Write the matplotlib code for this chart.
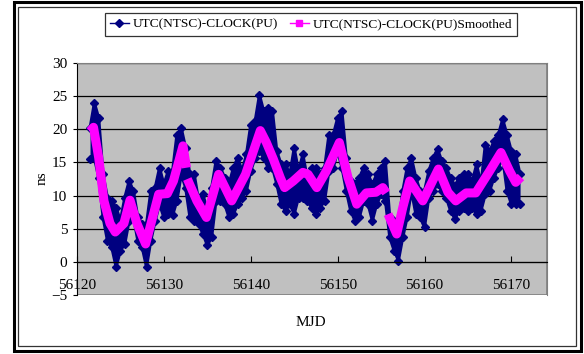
import matplotlib

matplotlib.use("Agg")

import matplotlib.pyplot as plt
import numpy as np
from matplotlib.lines import Line2D
from matplotlib.patches import Rectangle

# raw data: envelope of the dense measurement band, sampled every 0.5 day
mjd_raw = np.arange(56121.5, 56171.01, 0.5)
raw_upper = [
    20.2, 24.0, 21.7, 13.2, 9.7, 9.2, 8.2, 6.2, 9.7, 12.2,
    10.7, 6.7, 5.7, 5.7, 10.7, 11.2, 14.2, 11.7, 13.7, 13.7,
    19.2, 20.2, 17.2, 13.2, 13.2, 9.2, 10.2, 7.7, 11.2, 15.2,
    14.2, 12.7, 11.7, 14.2, 15.7, 13.7, 16.2, 20.7, 21.2, 25.2,
    22.7, 23.2, 22.7, 16.7, 14.7, 14.7, 13.2, 17.2, 13.7, 16.2,
    12.7, 14.2, 14.2, 13.2, 14.2, 19.2, 19.2, 21.7, 22.7, 15.7,
    12.2, 11.7, 12.7, 14.2, 13.2, 11.7, 13.2, 14.2, 15.2, 6.7,
    6.2, 5.7, 10.7, 14.2, 15.7, 12.7, 10.7, 10.7, 13.7, 15.7,
    17.0, 15.2, 14.2, 12.7, 11.5, 12.7, 13.2, 13.2, 12.2, 14.7,
    11.7, 17.7, 16.7, 18.2, 19.2, 21.5, 19.2, 16.7, 16.2, 13.2,
]
raw_lower = [
    15.5, 15.7, 12.7, 6.7, 3.2, 2.2, -0.8, 1.7, 2.7, 6.2,
    6.7, 3.2, 2.2, -0.8, 3.2, 6.2, 8.7, 6.7, 7.2, 7.0,
    9.2, 13.2, 11.2, 6.7, 6.2, 5.7, 4.2, 2.5, 3.7, 9.2,
    9.2, 8.7, 6.7, 7.2, 8.7, 9.7, 10.7, 13.7, 15.7, 16.7,
    15.7, 14.2, 14.2, 11.7, 8.7, 7.7, 8.7, 7.2, 9.7, 9.7,
    9.2, 8.2, 7.2, 8.2, 9.2, 13.7, 14.2, 16.7, 14.2, 10.7,
    7.7, 6.2, 6.7, 9.2, 8.7, 6.2, 8.7, 10.2, 9.2, 3.7,
    1.7, 0.2, 3.7, 6.7, 10.7, 7.2, 6.7, 5.2, 9.7, 10.7,
    11.7, 10.7, 9.7, 7.7, 6.5, 7.7, 8.2, 7.7, 8.2, 7.2,
    7.7, 10.2, 10.7, 12.7, 14.2, 15.7, 10.7, 8.7, 8.7, 8.7,
]

# smoothed curve (nan marks the two breaks)
mjd_smooth = [
    56121.5, 56121.9, 56122.5, 56123.1, 56123.8, 56124.4, 56125.4, 56126.1,
    56126.9, 56127.9, 56128.6, 56129.4, 56130.4, 56131.1, 56132.2, 56132.6,
    56132.65, 56132.7, 56133.8, 56134.9, 56136.3, 56137.8, 56139.4, 56141.1,
    56141.8, 56142.6, 56143.4, 56143.9, 56144.9, 56146.0, 56146.6, 56147.6,
    56148.7, 56150.2, 56151.2, 56152.2, 56153.3, 56154.4, 56155.2, 56155.6,
    56155.7, 56155.8, 56156.8, 56157.5, 56158.3, 56159.8, 56161.6, 56162.7,
    56163.6, 56164.8, 56165.9, 56167.5, 56168.8, 56169.8, 56170.5, 56171.1,
]
val_smooth = [
    19.7, 20.3, 15.7, 9.2, 5.8, 4.5, 5.8, 9.3,
    5.8, 2.7, 6.2, 10.2, 10.3, 12.2, 17.5, 14.2,
    np.nan, 12.5, 9.2, 6.7, 13.2, 9.2, 13.2, 19.8,
    18.0, 15.5, 12.7, 11.2, 12.2, 13.5, 13.2, 11.2,
    13.7, 18.0, 12.7, 8.7, 10.4, 10.5, 11.2, 10.4,
    np.nan, 7.2, 4.2, 8.2, 12.2, 9.2, 14.0, 10.5,
    9.2, 10.4, 10.4, 13.7, 16.5, 13.7, 12.0, 12.8,
]

y_ticks = [-5, 0, 5, 10, 15, 20, 25, 30]
x_ticks = [56120, 56130, 56140, 56150, 56160, 56170]
label_raw = "UTC(NTSC)-CLOCK(PU)"
label_smooth = "UTC(NTSC)-CLOCK(PU)Smoothed"

W, H = 584, 354
plt.rcParams["font.family"] = ["Liberation Serif", "DejaVu Serif"]

navy = "#000080"
magenta = "#FF00FF"

fig = plt.figure(figsize=(W / 100, H / 100), dpi=100)
fig.patch.set_facecolor("white")

# outer and inner frames
fig.add_artist(Rectangle((14 / W, 1 - 351 / H), 567 / W, 349 / H,
                         transform=fig.transFigure, fill=False,
                         edgecolor="black", linewidth=2.2))
fig.add_artist(Rectangle((17.5 / W, 1 - 345.5 / H), 558.5 / W, 338.5 / H,
                         transform=fig.transFigure, fill=False,
                         edgecolor="#333333", linewidth=0.9))

ax = fig.add_axes([77 / W, 1 - 295 / H, 470 / W, 232 / H])
ax.set_facecolor("#C0C0C0")
ax.set_xlim(56120, 56174.1)
ax.set_ylim(-5, 30)

for y in y_ticks[1:]:
    ax.axhline(y, color="black", linewidth=0.9, zorder=1)

# measurement band
ax.fill_between(mjd_raw, raw_lower, raw_upper, color=navy, linewidth=0, zorder=2)
ax.plot(mjd_raw, raw_upper, color=navy, marker="D", markersize=4.5,
        linestyle="-", linewidth=2.2, zorder=2)
ax.plot(mjd_raw, raw_lower, color=navy, marker="D", markersize=4.5,
        linestyle="-", linewidth=2.2, zorder=2)

ax.plot(mjd_smooth, val_smooth, color=magenta, linewidth=6.5,
        solid_capstyle="butt", solid_joinstyle="round", zorder=3)

ax.spines["bottom"].set_position(("data", 0))
ax.spines["bottom"].set_color("black")
ax.spines["left"].set_color("black")
ax.spines["top"].set_color("#808080")
ax.spines["right"].set_color("#808080")
ax.add_patch(Rectangle((0, 0), 1, 1, transform=ax.transAxes, fill=False,
                       edgecolor="#808080", linewidth=1.2, zorder=0.5))

ax.set_yticks(y_ticks)
ax.set_xticks(x_ticks)
ax.set_xticklabels([str(t) for t in x_ticks])
ax.tick_params(axis="x", direction="in", length=4, pad=12, labelsize=11)
ax.tick_params(axis="y", direction="out", length=3, pad=4, labelsize=11)

fig.text(42 / W, 1 - 178 / H, "ns", rotation=90, ha="center", va="center",
         fontsize=11)
fig.text(311 / W, 1 - 322 / H, "MJD", ha="center", va="center", fontsize=11)

handles = [
    Line2D([], [], color=navy, marker="D", markersize=4, linewidth=1),
    Line2D([], [], color=magenta, marker="s", markersize=4, linewidth=1),
]
leg = fig.legend(handles, [label_raw, label_smooth], loc="center",
                 bbox_to_anchor=(311 / W, 1 - 24.5 / H), ncol=2,
                 frameon=True, fancybox=False, fontsize=9.6,
                 handlelength=1.4, handletextpad=0.3, columnspacing=0.9,
                 borderpad=0.4, borderaxespad=0)
leg.get_frame().set_edgecolor("black")
leg.get_frame().set_linewidth(0.9)

fig.savefig("out.png", dpi=100)
